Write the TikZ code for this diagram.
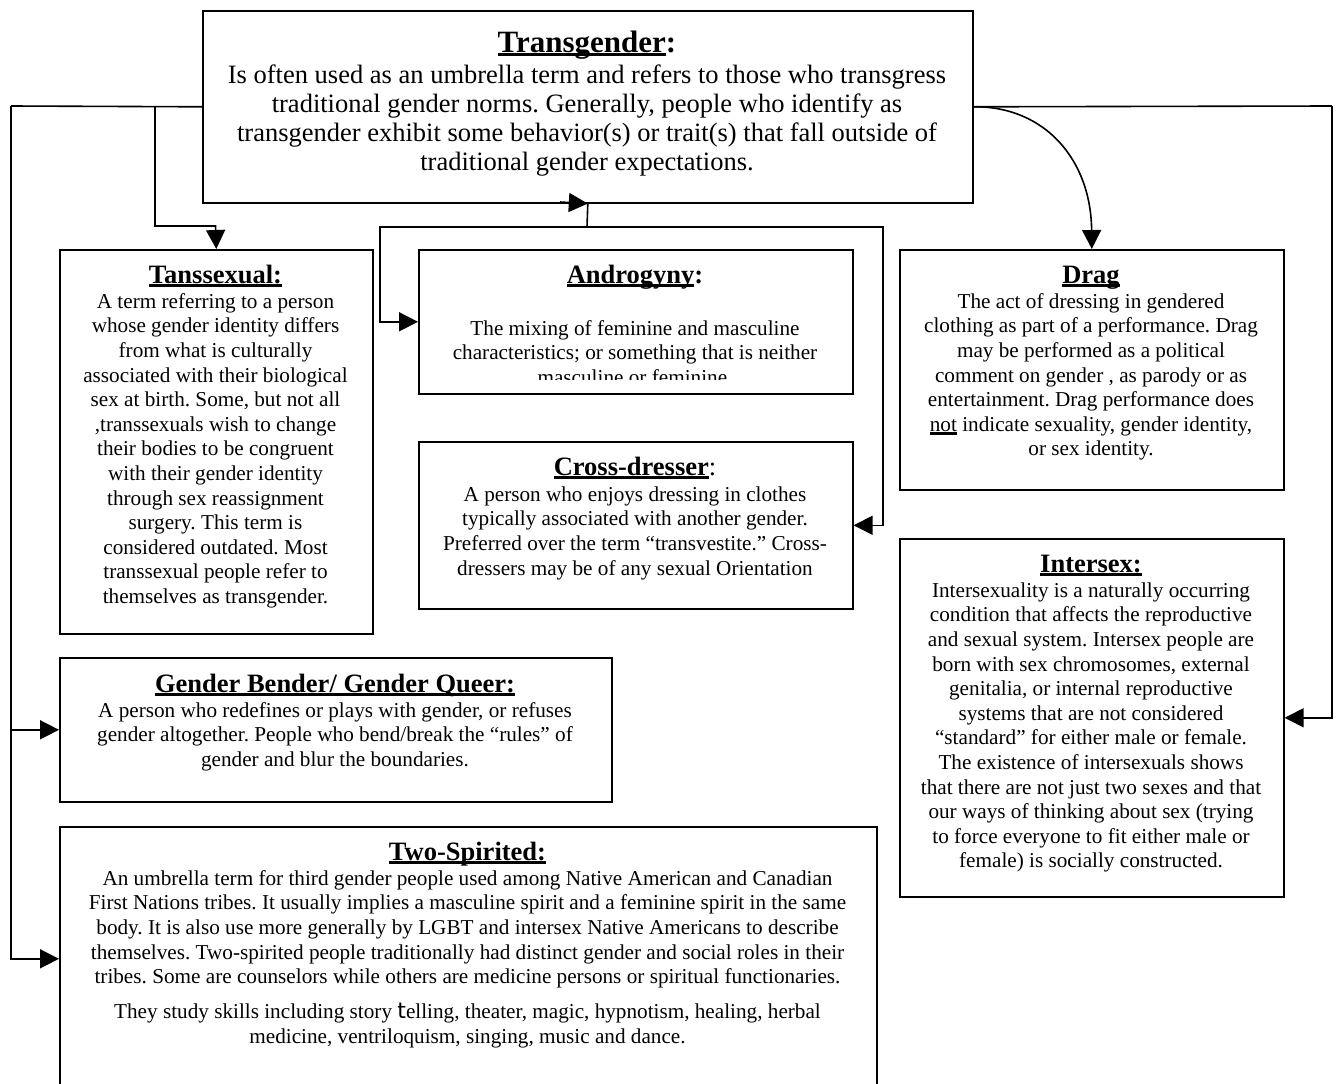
\documentclass[tikz,border=0pt]{standalone}
\usepackage{fontspec}
\setmainfont{Liberation Serif}
\newfontfamily\tfont{DejaVu Sans}
\usetikzlibrary{arrows.meta, positioning}
\frenchspacing
\tikzset{
  box/.style={rectangle, draw=black, line width=1.6pt, anchor=north west, inner sep=0pt},
  head/.style={anchor=base, inner sep=0pt, font=\fontsize{26.5}{30}\selectfont\bfseries},
  body/.style={anchor=north, inner sep=0pt, align=center, font=\fontsize{21.2}{24.6}\selectfont},
  arrow/.style={-{Triangle[length=19pt,width=19pt]}, line width=1.6pt},
  line/.style={line width=1.6pt}
}
% underline and first-line strut
\newcommand{\hdul}[1]{\setbox0\hbox{#1}\rlap{\vrule width\wd0 height -1.2pt depth 3.6pt}\box0}
\newcommand{\fl}{\vrule height 22pt depth 0pt width 0pt}

\begin{document}
\begin{tikzpicture}[x=1pt, y=-1pt]
  \fill[white] (0,0) rectangle (1336,1084);
  \useasboundingbox (0,0) rectangle (1336,1084);

  % boxes
  \node[box, minimum width=770pt, minimum height=192pt] (tg) at (202,10) {};
  \node[box, minimum width=313pt, minimum height=384pt] (tss) at (59,249) {};
  \node[box, minimum width=434pt, minimum height=144pt] (andro) at (418,249) {};
  \node[box, minimum width=434pt, minimum height=167pt] (cross) at (418,441) {};
  \node[box, minimum width=384pt, minimum height=240pt] (drag) at (899,249) {};
  \node[box, minimum width=384pt, minimum height=358pt] (isx) at (899,538) {};
  \node[box, minimum width=552pt, minimum height=144pt] (gbq) at (59,657) {};
  \node[box, minimum width=817pt, minimum height=264pt] (two) at (59,826) {};

  % headings
  \node[head, font=\fontsize{31}{34}\selectfont\bfseries] (tghead) at (587,52) {\hdul{Transgender}:};
  \node[head] (tsshead) at (215.5,283) {\hdul{Tanssexual:}};
  \node[head] (androhead) at (635,283) {\hdul{Androgyny}:};
  \node[head] (crosshead) at (635,475) {\hdul{Cross-dresser}{\mdseries :}};
  \node[head] (draghead) at (1091,283) {\hdul{Drag}};
  \node[head] (isxhead) at (1091,572) {\hdul{Intersex:}};
  \node[head] (gbqhead) at (335,692) {\hdul{Gender Bender/ Gender Queer:}};
  \node[head] (twohead) at (467.5,860) {\hdul{Two-Spirited:}};

  % texts
  \node[body, font=\fontsize{26.5}{29}\selectfont] (tgtext) at (587,61) {\fl Is often used as an umbrella term and refers to those who transgress\\
    traditional gender norms. Generally, people who identify as\\
    transgender exhibit some behavior(s) or trait(s) that fall outside of\\
    traditional gender expectations.};
  \node[body] (tsstext) at (215.5,286) {\fl A term referring to a person\\
    whose gender identity differs\\ from what is culturally\\
    associated with their biological\\ sex at birth. Some, but not all\\
    ,transsexuals wish to change\\ their bodies to be congruent\\
    with their gender identity\\ through sex reassignment\\
    surgery. This term is\\ considered outdated. Most\\
    transsexual people refer to\\ themselves as transgender.};
  \begin{scope}
    \clip (400,240) rectangle (870,379);
    \node[body] (androtext) at (635,313) {\fl The mixing of feminine and masculine\\
      characteristics; or something that is neither\\ masculine or feminine.};
  \end{scope}
  \node[body] (crosstext) at (635,479) {\fl A person who enjoys dressing in clothes\\
    typically associated with another gender.\\
    Preferred over the term “transvestite.” Cross-\\
    dressers may be of any sexual Orientation};
  \node[body] (dragtext) at (1091,286) {\fl The act of dressing in gendered\\
    clothing as part of a performance. Drag\\ may be performed as a political\\
    comment on gender , as parody or as\\ entertainment. Drag performance does\\
    \hdul{not}\ indicate sexuality, gender identity,\\ or sex identity.};
  \node[body] (isxtext) at (1091,575) {\fl Intersexuality is a naturally occurring\\
    condition that affects the reproductive\\ and sexual system. Intersex people are\\
    born with sex chromosomes, external\\ genitalia, or internal reproductive\\
    systems that are not considered\\ “standard” for either male or female.\\
    The existence of intersexuals shows\\ that there are not just two sexes and that\\
    our ways of thinking about sex (trying\\ to force everyone to fit either male or\\
    female) is socially constructed.};
  \node[body] (gbqtext) at (335,695) {\fl A person who redefines or plays with gender, or refuses\\
    gender altogether. People who bend/break the “rules” of\\
    gender and blur the boundaries.};
  \node[body] (twotext) at (467.5,863) {\fl An umbrella term for third gender people used among Native American and Canadian\\
    First Nations tribes. It usually implies a masculine spirit and a feminine spirit in the same\\
    body. It is also use more generally by LGBT and intersex Native Americans to describe\\
    themselves. Two-spirited people traditionally had distinct gender and social roles in their\\
    tribes. Some are counselors while others are medicine persons or spiritual functionaries.\\[10.5pt]
    They study skills including story {\tfont\fontsize{22}{24.6}\selectfont t}elling, theater, magic, hypnotism, healing, herbal\\
    medicine, ventriloquism, singing, music and dance.};

  % connectors
  \coordinate (lft) at (11,106);
  \coordinate (brk) at (155,106);
  \coordinate (tbend) at (215.5,226);
  \coordinate (rgt) at (1332,106);
  \coordinate (ahub) at (587,227);
  \coordinate (aleft) at (380,227);
  \coordinate (aright) at (883,227);
  \coordinate (atail) at (560,202);

  \draw[line] (tg.west) -- (lft);
  \draw[arrow] (lft) |- (two.west);
  \draw[arrow] (lft |- gbq.west) -- (gbq.west);
  \draw[arrow] (brk) |- (tbend) -- (tss.north);
  \draw[line] (tg.east) -- (rgt);
  \draw[arrow] (rgt) |- (isx.east);
  \draw[arrow] (tg.east) .. controls (1045,106) and (1091,160) .. (drag.north);
  \draw[arrow] (atail) -- (tg.south);
  \draw[line] (tg.south) -- (ahub);
  \draw[arrow] (ahub) -- (aleft) |- (andro.west);
  \draw[arrow] (ahub) -- (aright) |- (cross.east);
\end{tikzpicture}
\end{document}
